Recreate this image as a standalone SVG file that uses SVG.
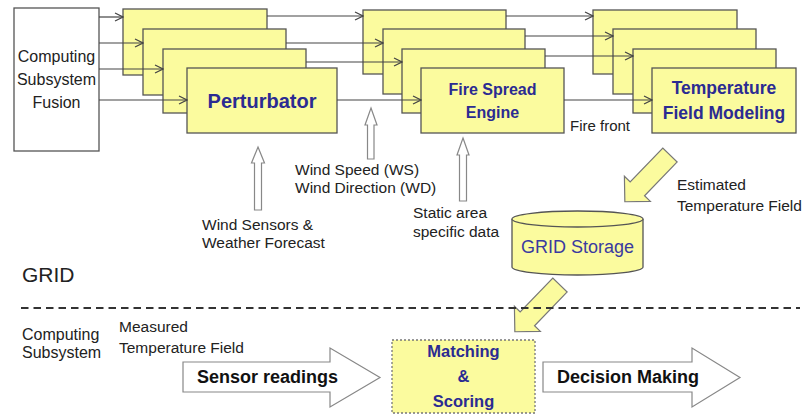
<svg xmlns="http://www.w3.org/2000/svg" width="804" height="417" viewBox="0 0 804 417">
<style>
.box{fill:#fbfb9e;stroke:#555;stroke-width:1.3}
.plain{fill:#fff;stroke:#555;stroke-width:1.3}
.conn{stroke:#444;stroke-width:1.2;fill:none}
.hollow{fill:#fff;stroke:#888;stroke-width:1.2}
.yarrow{fill:#fbfb9e;stroke:#777;stroke-width:1.2}
.t{font-family:"Liberation Sans",Arial,sans-serif;fill:#222}
.b{font-family:"Liberation Sans",Arial,sans-serif;font-weight:bold;fill:#2b2b92}
.k{font-family:"Liberation Sans",Arial,sans-serif;font-weight:bold;fill:#111}
</style>
<defs>
<marker id="ah" markerWidth="10" markerHeight="10" refX="9" refY="5" orient="auto" markerUnits="userSpaceOnUse">
<path d="M1,1 L9,5 L1,9" fill="none" stroke="#444" stroke-width="1.2"/>
</marker>
</defs>
<rect width="804" height="417" fill="#fff"/>

<g id="fusion">
<rect class="plain" x="14" y="8" width="85" height="143"/>
<text class="t" font-size="16" text-anchor="middle" x="56.5" y="62">Computing</text>
<text class="t" font-size="16" text-anchor="middle" x="56.5" y="85">Subsystem</text>
<text class="t" font-size="16" text-anchor="middle" x="56.5" y="108">Fusion</text>
</g>

<g id="perturbator">
<rect class="box" x="123" y="9" width="144" height="66"/>
<rect class="box" x="143" y="29" width="143" height="66"/>
<rect class="box" x="163" y="49" width="143" height="64"/>
<rect class="box" x="187" y="68" width="150" height="65"/>
<text class="b" font-size="20" text-anchor="middle" x="262" y="108">Perturbator</text>
</g>

<g id="firespread">
<rect class="box" x="363" y="10" width="143" height="64"/>
<rect class="box" x="383" y="29" width="142" height="65"/>
<rect class="box" x="402" y="49" width="143" height="64"/>
<rect class="box" x="421" y="68" width="143" height="65"/>
<text class="b" font-size="16" text-anchor="middle" x="492.5" y="95">Fire Spread</text>
<text class="b" font-size="16" text-anchor="middle" x="492.5" y="118">Engine</text>
</g>

<g id="temperature">
<rect class="box" x="593" y="10" width="144" height="64"/>
<rect class="box" x="613" y="29" width="143" height="65"/>
<rect class="box" x="633" y="49" width="143" height="64"/>
<rect class="box" x="652" y="68" width="144" height="65"/>
<text class="b" font-size="17.5" text-anchor="middle" x="724" y="94">Temperature</text>
<text class="b" font-size="17.5" text-anchor="middle" x="724" y="119">Field Modeling</text>
</g>

<g id="connectors">
<line class="conn" x1="99" y1="17" x2="123" y2="17" marker-end="url(#ah)"/>
<line class="conn" x1="99" y1="43" x2="143" y2="43" marker-end="url(#ah)"/>
<line class="conn" x1="99" y1="69" x2="163" y2="69" marker-end="url(#ah)"/>
<line class="conn" x1="99" y1="100" x2="187" y2="100" marker-end="url(#ah)"/>
<line class="conn" x1="267" y1="16" x2="363" y2="16" marker-end="url(#ah)"/>
<line class="conn" x1="286" y1="43" x2="383" y2="43" marker-end="url(#ah)"/>
<line class="conn" x1="306" y1="62" x2="402" y2="62" marker-end="url(#ah)"/>
<line class="conn" x1="337" y1="100" x2="421" y2="100" marker-end="url(#ah)"/>
<line class="conn" x1="506" y1="16" x2="593" y2="16" marker-end="url(#ah)"/>
<line class="conn" x1="525" y1="36" x2="613" y2="36" marker-end="url(#ah)"/>
<line class="conn" x1="545" y1="56" x2="633" y2="56" marker-end="url(#ah)"/>
<line class="conn" x1="564" y1="100" x2="652" y2="100" marker-end="url(#ah)"/>
<polygon class="hollow" points="258,147 264.5,163 261.5,163 261.5,210 254.5,210 254.5,163 251.5,163"/>
<polygon class="hollow" points="371,108 377,125 374,125 374,159 367.5,159 367.5,125 365,125"/>
<polygon class="hollow" points="463,138 469,155 466.5,155 466.5,201 459.5,201 459.5,155 457,155"/>
<polygon class="yarrow" transform="translate(670,155) rotate(134)" points="0,-10 47,-10 47,-18 65,0 47,18 47,10 0,10"/>
<polygon class="yarrow" transform="translate(560,285) rotate(134)" points="0,-10 47,-10 47,-18 65,0 47,18 47,10 0,10"/>
<polygon class="hollow" points="183,362 330,362 330,348 380,377.5 330,407 330,392 183,392"/>
<polygon class="hollow" points="543,362 692,362 692,348 740,377.5 692,407 692,392 543,392"/>
</g>

<g id="labels">
<text class="t" font-size="15" x="570" y="131">Fire front</text>
<text class="t" font-size="15.5" x="295" y="175">Wind Speed (WS)</text>
<text class="t" font-size="15.5" x="295" y="193">Wind Direction (WD)</text>
<text class="t" font-size="15.5" x="202" y="230">Wind Sensors &amp;</text>
<text class="t" font-size="15.5" x="202" y="248">Weather Forecast</text>
<text class="t" font-size="15.5" x="413" y="218">Static area</text>
<text class="t" font-size="15.5" x="413" y="237">specific data</text>
<text class="t" font-size="15.5" x="677" y="190">Estimated</text>
<text class="t" font-size="15.5" x="677" y="211">Temperature Field</text>
<text class="t" font-size="21" x="22" y="282">GRID</text>
<text class="t" font-size="16" x="22" y="340">Computing</text>
<text class="t" font-size="16" x="22" y="358">Subsystem</text>
<text class="t" font-size="15.5" x="119" y="332">Measured</text>
<text class="t" font-size="15.5" x="119" y="353">Temperature Field</text>
<text class="k" font-size="18" x="197" y="383">Sensor readings</text>
<text class="k" font-size="18" x="557" y="383">Decision Making</text>
</g>

<line x1="21" y1="308" x2="800" y2="308" stroke="#333" stroke-width="2" stroke-dasharray="7.5,5"/>

<g id="gridstorage">
<path class="box" d="M512,219 L512,267 A65.5,8 0 0 0 643,267 L643,219"/>
<ellipse class="box" cx="577.5" cy="219" rx="65.5" ry="8"/>
<text font-family="'Liberation Sans',Arial,sans-serif" font-size="18" fill="#3a3aa0" text-anchor="middle" x="577.5" y="253">GRID Storage</text>
</g>

<g id="matching">
<rect x="392" y="340" width="143" height="73" fill="#fbfb9e" stroke="#777" stroke-width="1.3" stroke-dasharray="2,2"/>
<text class="b" font-size="16.5" text-anchor="middle" x="463.5" y="357">Matching</text>
<text class="b" font-size="16.5" text-anchor="middle" x="463.5" y="382">&amp;</text>
<text class="b" font-size="16.5" text-anchor="middle" x="463.5" y="407">Scoring</text>
</g>
</svg>
